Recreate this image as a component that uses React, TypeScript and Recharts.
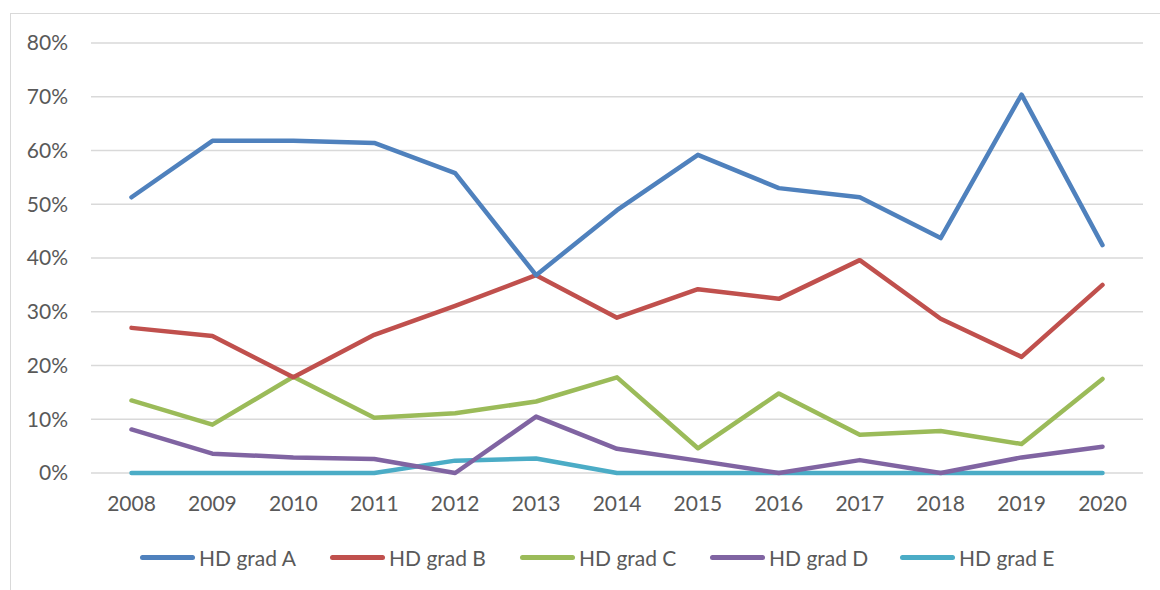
import { LineChart, Line, XAxis, YAxis, CartesianGrid } from 'recharts';

const years = ['2008', '2009', '2010', '2011', '2012', '2013', '2014', '2015', '2016', '2017', '2018', '2019', '2020'];

// percent values
const gradA = [51.3, 61.8, 61.8, 61.4, 55.8, 36.8, 48.9, 59.2, 53.0, 51.3, 43.7, 70.4, 42.4];
const gradB = [27.0, 25.5, 17.8, 25.7, 31.1, 36.8, 28.9, 34.2, 32.4, 39.6, 28.7, 21.6, 35.0];
const gradC = [13.5, 9.0, 17.9, 10.3, 11.1, 13.3, 17.8, 4.6, 14.8, 7.1, 7.8, 5.4, 17.5];
const gradD = [8.1, 3.6, 2.9, 2.6, 0, 10.5, 4.5, 2.3, 0, 2.4, 0, 2.9, 4.9];
const gradE = [0, 0, 0, 0, 2.3, 2.7, 0, 0, 0, 0, 0, 0, 0];

const yTicks = [0, 10, 20, 30, 40, 50, 60, 70, 80];

const series = [
  { key: 'a', name: 'HD grad A', color: '#4F81BD' },
  { key: 'b', name: 'HD grad B', color: '#C0504D' },
  { key: 'c', name: 'HD grad C', color: '#9BBB59' },
  { key: 'd', name: 'HD grad D', color: '#8064A2' },
  { key: 'e', name: 'HD grad E', color: '#4BACC6' },
];

const chartData = years.map((year, i) => ({
  year,
  a: gradA[i],
  b: gradB[i],
  c: gradC[i],
  d: gradD[i],
  e: gradE[i],
}));

const font = 'Lato, "Open Sans", sans-serif';
const textColor = '#595959';

export default function App() {
  return (
    <div style={{ position: 'absolute', left: 0, top: 0, width: 1160, height: 590, background: '#fff', fontFamily: font }}>
      {/* chart frame, only top and left edges show */}
      <div style={{ position: 'absolute', left: 10, top: 13, right: 0, bottom: 0, borderTop: '1.5px solid #d9d9d9', borderLeft: '1.5px solid #d9d9d9' }} />
      <LineChart
        width={1160}
        height={590}
        data={chartData}
        margin={{ top: 43, right: 17, bottom: 67, left: 0 }}
        style={{ position: 'absolute', left: 0, top: 0 }}
      >
        <CartesianGrid vertical={false} stroke="#d9d9d9" strokeWidth={1.5} />
        <XAxis
          dataKey="year"
          axisLine={false}
          tickLine={false}
          tickSize={0}
          tickMargin={23}
          height={50}
          padding={{ left: 40.5, right: 40.5 }}
          interval={0}
          tick={{ fill: textColor, fontSize: 21, fontFamily: font }}
        />
        <YAxis
          domain={[0, 80]}
          ticks={yTicks}
          width={91}
          axisLine={false}
          tickLine={false}
          tickSize={0}
          tickMargin={23}
          tickFormatter={(v) => `${v}%`}
          tick={{ fill: textColor, fontSize: 21, fontFamily: font }}
        />
        {series.slice().reverse().map((s) => (
          <Line
            key={s.key}
            type="linear"
            dataKey={s.key}
            name={s.name}
            stroke={s.color}
            strokeWidth={4.5}
            strokeLinecap="round"
            strokeLinejoin="round"
            dot={false}
            activeDot={false}
            isAnimationActive={false}
          />
        ))}
      </LineChart>
      <div style={{ position: 'absolute', left: 140, top: 545, display: 'flex', height: 24, alignItems: 'center' }}>
        {series.map((s) => (
          <div key={s.key} style={{ width: 190, display: 'flex', alignItems: 'center' }}>
            <div style={{ width: 55, height: 5, borderRadius: 3, background: s.color, marginRight: 4 }} />
            <span style={{ fontSize: 21, color: textColor }}>{s.name}</span>
          </div>
        ))}
      </div>
    </div>
  );
}
